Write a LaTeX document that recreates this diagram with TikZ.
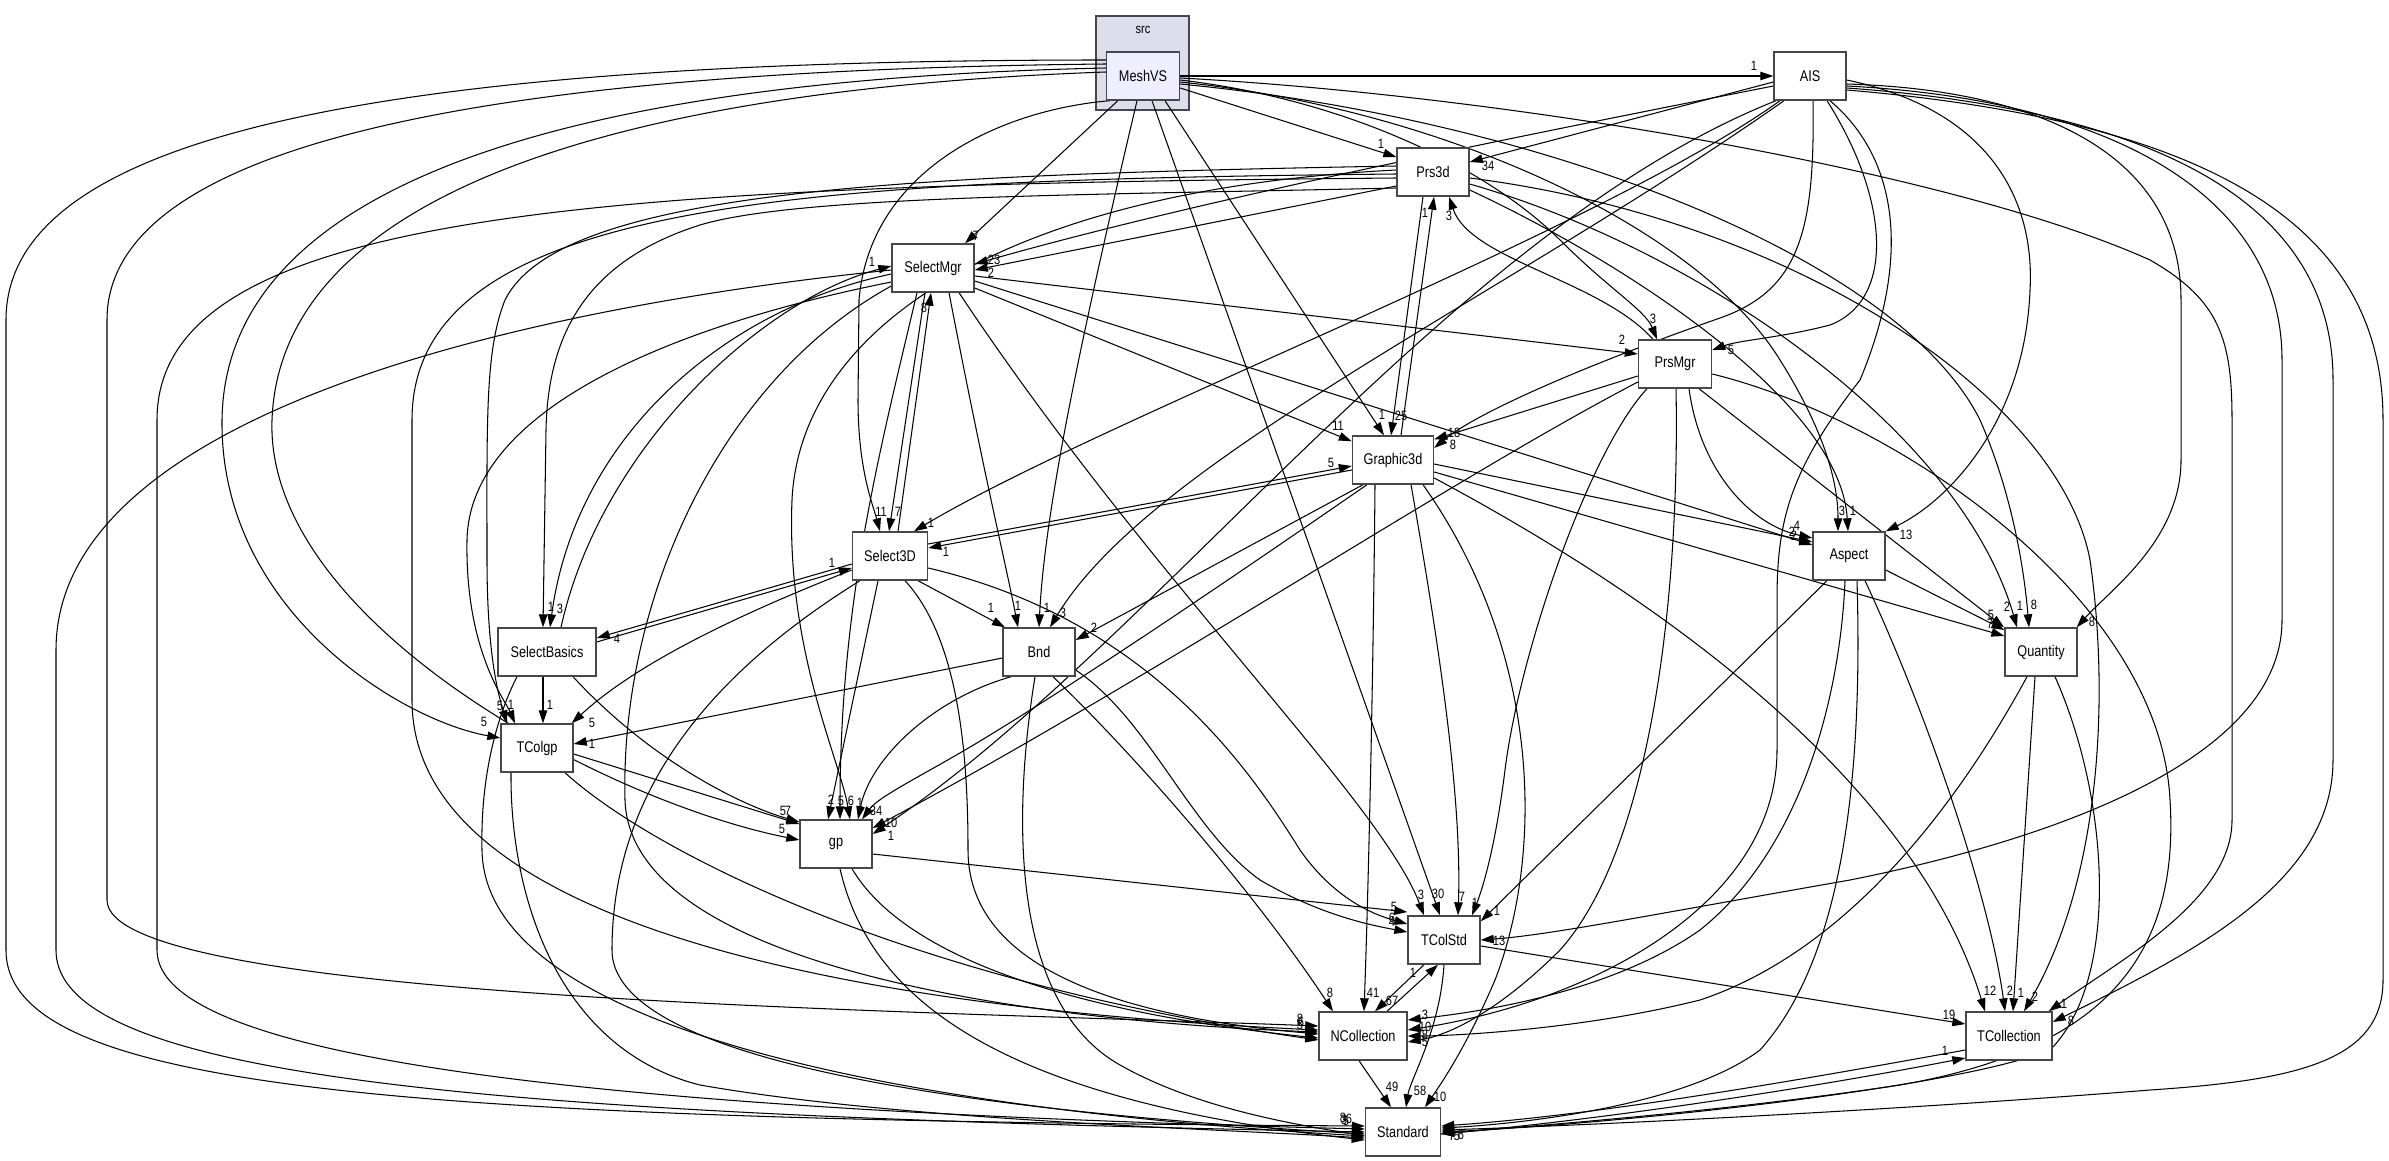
\documentclass[tikz,border=0pt]{standalone}
\usepackage{fontspec}
\newfontfamily\pkgnf{Liberation Sans}[FakeStretch=0.82]
\usetikzlibrary{arrows.meta}
\pgfdeclarelayer{back}
\pgfdeclarelayer{edges}
\pgfsetlayers{back,edges,main}
\newcommand\pkgfont{\pkgnf\fontsize{15.5}{18}\selectfont}
\newcommand\depfont{\pkgnf\fontsize{13.5}{15}\selectfont}
\definecolor{clusterfill}{RGB}{221,221,238}
\definecolor{focusfill}{RGB}{238,238,255}
\begin{document}
\begin{tikzpicture}[x=1pt,y=-1pt,
  pkg/.style={draw=black!72, line width=1.4pt, fill=white, minimum height=48pt, inner sep=0pt, font=\pkgfont},
  dep/.style={line width=1.05pt, -{Triangle[length=13pt,width=8.5pt]}},
  lbl/.style={font=\depfont, inner sep=0pt}]
\useasboundingbox (0,0) rectangle (2389,1161);
\begin{pgfonlayer}{back}
\fill[white] (0,0) rectangle (2389,1161);
\node[draw=black!72, line width=1.4pt, fill=clusterfill, minimum width=93pt, minimum height=94pt, inner sep=0pt] (cl) at (1142.5,63) {};
\node[font=\depfont, inner sep=0pt] (srclbl) at (1143,30) {src};
\end{pgfonlayer}
% nodes
\node[pkg, fill=focusfill, minimum width=73pt] (M) at (1143,76) {MeshVS};
\node[pkg, minimum width=72pt] (AIS) at (1810,76) {AIS};
\node[pkg, minimum width=72pt] (Prs3d) at (1433,172) {Prs3d};
\node[pkg, minimum width=82pt] (SMgr) at (933,268) {SelectMgr};
\node[pkg, minimum width=73pt] (PMgr) at (1675,364) {PrsMgr};
\node[pkg, minimum width=81pt] (G3d) at (1393,460) {Graphic3d};
\node[pkg, minimum width=75pt] (S3D) at (890,556) {Select3D};
\node[pkg, minimum width=72pt] (Asp) at (1849,556) {Aspect};
\node[pkg, minimum width=98pt] (SBas) at (547,652) {SelectBasics};
\node[pkg, minimum width=72pt] (Bnd) at (1039,652) {Bnd};
\node[pkg, minimum width=72pt] (Qty) at (2041,652) {Quantity};
\node[pkg, minimum width=72pt] (TColgp) at (537,748) {TColgp};
\node[pkg, minimum width=72pt] (gp) at (836,844) {gp};
\node[pkg, minimum width=72pt] (TColStd) at (1444,940) {TColStd};
\node[pkg, minimum width=88pt] (NColl) at (1363,1036) {NCollection};
\node[pkg, minimum width=86pt] (TColl) at (2009,1036) {TCollection};
\node[pkg, minimum width=75pt] (Std) at (1403,1132) {Standard};

\begin{pgfonlayer}{edges}
% ---------- MeshVS
\draw[dep] (M) -- (AIS) node[lbl,at={(1754,66)}]{1};
\draw[dep] ([yshift=-12pt]M.east) -- ([yshift=15pt]Prs3d.west) node[lbl,at={(1381,144)}]{1};
\draw[dep] ([xshift=12pt]M.south west) -- ([xshift=32pt]SMgr.north) node[lbl,at={(976,236)}]{7};
\draw[dep] ([xshift=4pt]M.south west) .. controls (1000,110) and (870,170) .. (859,300) -- (858,400) .. controls (858,470) and (873,505) .. ([xshift=-10pt]S3D.north) node[lbl,at={(881,512)}]{11};
\draw[dep] ([xshift=-6pt]M.south) .. controls (1090,300) and (1045,500) .. (Bnd.north) node[lbl,at={(1047,608)}]{1};
\draw[dep] ([xshift=9pt]M.south) -- ([xshift=-4pt]TColStd.north) node[lbl,at={(1438,894)}]{30};
\draw[dep] ([xshift=22pt]M.south) -- ([xshift=-9pt]G3d.north) node[lbl,at={(1382,415)}]{1};
\draw[dep] ([yshift=-4pt]M.east) .. controls (1350,100) and (1490,170) .. (1560,240) .. controls (1610,290) and (1645,310) .. ([xshift=-18pt]PMgr.north) node[lbl,at={(1653,319)}]{3};
\draw[dep] ([yshift=-6pt]M.east) .. controls (1450,110) and (1700,230) .. (1780,360) .. controls (1830,440) and (1838,490) .. ([xshift=-11pt]Asp.north) node[lbl,at={(1842,511)}]{3};
\draw[dep] ([yshift=-8pt]M.east) .. controls (1550,120) and (1900,260) .. (1980,420) .. controls (2015,500) and (2025,580) .. ([xshift=-12pt]Qty.north) node[lbl,at={(2034,605)}]{8};
\draw[dep] ([yshift=-2pt]M.east) .. controls (1500,95) and (1950,170) .. (2150,260) .. controls (2220,300) and (2232,340) .. (2232,420) -- (2232,820) .. controls (2232,900) and (2120,960) .. ([xshift=-4pt]TColl.north east) node[lbl,at={(2064,1004)}]{1};
\draw[dep] ([yshift=4pt]M.west) .. controls (600,90) and (280,200) .. (272,420) .. controls (265,620) and (600,800) .. ([yshift=4pt]gp.west) node[lbl,at={(782,829)}]{5};
\draw[dep] ([yshift=8pt]M.west) .. controls (550,80) and (225,190) .. (222,420) .. controls (220,610) and (400,720) .. ([yshift=10pt]TColgp.west) node[lbl,at={(484,722)}]{5};
\draw[dep] ([yshift=12pt]M.west) .. controls (500,70) and (107,140) .. (107,320) -- (107,900) .. controls (107,1000) and (900,1010) .. ([yshift=10pt]NColl.west) node[lbl,at={(1300,1019)}]{8};
\draw[dep] ([yshift=16pt]M.west) .. controls (400,60) and (6,130) .. (6,320) -- (6,950) .. controls (6,1090) and (400,1120) .. ([yshift=6pt]Std.west) node[lbl,at={(1343,1118)}]{8};
% ---------- AIS
\draw[dep] ([yshift=-6pt]AIS.west) -- ([yshift=10pt]Prs3d.east) node[lbl,at={(1488,166)}]{34};
\draw[dep] ([yshift=-10pt]AIS.west) .. controls (1500,140) and (1200,200) .. ([yshift=4pt]SMgr.east) node[lbl,at={(994,260)}]{23};
\draw[dep] ([xshift=17pt]AIS.south) .. controls (1890,200) and (1895,300) .. (1830,325) .. controls (1780,338) and (1740,340) .. ([yshift=14pt]PMgr.east) node[lbl,at={(1731,350)}]{5};
\draw[dep] ([xshift=3pt]AIS.south) .. controls (1815,230) and (1800,290) .. (1720,318) .. controls (1600,360) and (1480,410) .. ([yshift=12pt]G3d.east) node[lbl,at={(1453,445)}]{8};
\draw[dep] ([xshift=-30pt]AIS.south) .. controls (1600,230) and (1100,420) .. ([xshift=24pt]S3D.north) node[lbl,at={(931,523)}]{1};
\draw[dep] ([xshift=-34pt]AIS.south) .. controls (1450,230) and (1150,650) .. ([yshift=10pt]gp.east) node[lbl,at={(891,836)}]{1};
\draw[dep] ([xshift=-26pt]AIS.south) .. controls (1500,300) and (1150,460) .. ([xshift=11pt]Bnd.north) node[lbl,at={(1063,613)}]{3};
\draw[dep] ([yshift=-4pt]AIS.east) .. controls (1990,110) and (2035,200) .. (2030,290) .. controls (2025,420) and (1950,500) .. (Asp.north east) node[lbl,at={(1906,535)}]{13};
\draw[dep] ([yshift=-8pt]AIS.east) .. controls (2050,90) and (2181,160) .. (2181,300) -- (2181,460) .. controls (2181,540) and (2110,590) .. ([xshift=-1pt]Qty.north east) node[lbl,at={(2092,622)}]{8};
\draw[dep] ([yshift=-10pt]AIS.east) .. controls (2120,100) and (2282,200) .. (2282,360) -- (2282,620) .. controls (2282,760) and (2050,840) .. (1850,880) .. controls (1650,915) and (1550,935) .. (TColStd.east) node[lbl,at={(1499,941)}]{13};
\draw[dep] ([yshift=-14pt]AIS.east) .. controls (2200,120) and (2383,220) .. (2383,420) -- (2383,980) .. controls (2383,1060) and (2300,1080) .. (2150,1090) .. controls (1900,1110) and (1600,1125) .. ([yshift=2pt]Std.east) node[lbl,at={(1452,1136)}]{7};
\draw[dep] ([yshift=-12pt]AIS.east) .. controls (2150,110) and (2333,200) .. (2333,380) -- (2333,760) .. controls (2333,880) and (2200,950) .. ([yshift=14pt]TColl.east) node[lbl,at={(2071,1021)}]{8};
\draw[dep] ([xshift=20pt]AIS.south) .. controls (1900,160) and (1910,260) .. (1860,380) .. controls (1790,470) and (1777,520) .. (1777,600) -- (1777,750) .. controls (1777,900) and (1600,1000) .. ([yshift=6pt]NColl.east) node[lbl,at={(1425,1027)}]{10};
% ---------- Prs3d
\draw[dep] ([yshift=-14pt]Prs3d.west) -- ([yshift=-2pt]SMgr.east) node[lbl,at={(991,273)}]{2};
\draw[dep] ([yshift=-16pt]Prs3d.west) .. controls (1100,195) and (800,195) .. (700,225) .. controls (590,260) and (548,330) .. (546,430) -- ([xshift=-4pt]SBas.north) node[lbl,at={(551,607)}]{1};
\draw[dep] ([xshift=-10pt]Prs3d.south) -- ([xshift=-2pt]G3d.north) node[lbl,at={(1401,416)}]{25};
\draw[dep] ([yshift=-18pt]Prs3d.east) .. controls (1620,260) and (1840,400) .. ([xshift=-1pt]Asp.north) node[lbl,at={(1853,511)}]{1};
\draw[dep] ([yshift=-12pt]Prs3d.east) .. controls (1700,250) and (1960,430) .. ([xshift=-24pt]Qty.north) node[lbl,at={(2020,606)}]{1};
\draw[dep] ([yshift=-6pt]Prs3d.east) .. controls (1800,220) and (2060,400) .. (2090,560) .. controls (2110,700) and (2100,880) .. ([xshift=15pt]TColl.north) node[lbl,at={(2035,997)}]{2};
\draw[dep] ([yshift=6pt]Prs3d.west) .. controls (900,175) and (560,190) .. (505,300) .. controls (485,350) and (487,420) .. (487,560) .. controls (487,660) and (500,700) .. ([xshift=-30pt]TColgp.north) node[lbl,at={(500,706)}]{5};
\draw[dep] ([yshift=2pt]Prs3d.west) .. controls (1000,190) and (800,330) .. (792,500) .. controls (786,650) and (840,760) .. ([xshift=14pt]gp.north) node[lbl,at={(851,801)}]{6};
\draw[dep] ([yshift=-2pt]Prs3d.west) .. controls (800,180) and (412,200) .. (412,420) -- (412,700) .. controls (412,960) and (1000,1015) .. ([yshift=6pt]NColl.west) node[lbl,at={(1301,1022)}]{6};
\draw[dep] ([yshift=-6pt]Prs3d.west) .. controls (600,185) and (157,210) .. (157,420) -- (157,950) .. controls (157,1060) and (600,1110) .. ([yshift=3pt]Std.west) node[lbl,at={(1349,1119)}]{6};
% ---------- SelectMgr
\draw[dep] ([yshift=-6pt]SMgr.west) .. controls (720,310) and (575,440) .. ([xshift=3pt]SBas.north) node[lbl,at={(560,609)}]{3};
\draw[dep] ([xshift=-8pt]SMgr.south) -- ([xshift=-1pt]S3D.north) node[lbl,at={(898,512)}]{7};
\draw[dep] ([yshift=-8pt]SMgr.east) -- ([yshift=10pt]PMgr.west) node[lbl,at={(1622,340)}]{2};
\draw[dep] ([yshift=-20pt]SMgr.east) -- ([yshift=-6pt]G3d.north west) node[lbl,at={(1338,426)}]{11};
\draw[dep] ([yshift=-13pt]SMgr.east) -- ([yshift=11pt]Asp.west) node[lbl,at={(1794,536)}]{2};
\draw[dep] ([xshift=16pt]SMgr.south) .. controls (985,480) and (1005,560) .. ([xshift=-21pt]Bnd.north) node[lbl,at={(1018,606)}]{1};
\draw[dep] ([yshift=-14pt]SMgr.west) .. controls (700,320) and (470,400) .. (467,540) .. controls (465,650) and (505,700) .. ([xshift=-22pt]TColgp.north) node[lbl,at={(511,705)}]{1};
\draw[dep] ([xshift=-16pt]SMgr.south) .. controls (880,450) and (840,600) .. ([xshift=4pt]gp.north) node[lbl,at={(841,801)}]{5};
\draw[dep] ([xshift=26pt]SMgr.south) .. controls (1150,580) and (1380,800) .. ([xshift=-20pt]TColStd.north) node[lbl,at={(1421,895)}]{3};
\draw[dep] ([yshift=-18pt]SMgr.west) .. controls (720,380) and (620,600) .. (625,800) .. controls (630,960) and (1000,1020) .. ([yshift=4pt]NColl.west) node[lbl,at={(1300,1025)}]{5};
\draw[dep] ([yshift=-2pt]SMgr.west) .. controls (500,310) and (56,420) .. (56,650) -- (56,950) .. controls (56,1080) and (500,1115) .. (Std.west) node[lbl,at={(1346,1121)}]{5};
% ---------- SelectBasics
\draw[dep] ([xshift=14pt]SBas.north) .. controls (600,450) and (760,300) .. ([yshift=2pt]SMgr.west) node[lbl,at={(872,262)}]{1};
\draw[dep] ([yshift=-8pt]S3D.west) -- ([yshift=14pt]SBas.east) node[lbl,at={(617,639)}]{4};
\draw[dep] ([yshift=10pt]SBas.east) -- ([yshift=-12pt]S3D.west) node[lbl,at={(832,563)}]{1};
\draw[dep] ([xshift=-4pt]SBas.south) -- ([xshift=6pt]TColgp.north) node[lbl,at={(550,705)}]{1};
\draw[dep] ([xshift=26pt]SBas.south) .. controls (650,760) and (740,805) .. ([yshift=22pt]gp.west) node[lbl,at={(783,811)}]{5};
\draw[dep] ([xshift=-30pt]SBas.south) .. controls (505,700) and (480,760) .. (482,850) .. controls (485,1050) and (1000,1115) .. ([yshift=-4pt]Std.west) node[lbl,at={(1344,1120)}]{3};
% ---------- PrsMgr
\draw[dep] ([xshift=-22pt]PMgr.north) .. controls (1600,280) and (1470,260) .. ([xshift=16pt]Prs3d.south) node[lbl,at={(1449,216)}]{3};
\draw[dep] ([yshift=-12pt]PMgr.west) -- ([yshift=-4pt]G3d.north east) node[lbl,at={(1454,433)}]{18};
\draw[dep] ([xshift=14pt]PMgr.south) .. controls (1700,470) and (1750,525) .. ([yshift=18pt]Asp.west) node[lbl,at={(1792,532)}]{2};
\draw[dep] ([xshift=24pt]PMgr.south) -- ([xshift=-37pt]Qty.north) node[lbl,at={(2007,607)}]{2};
\draw[dep] ([yshift=-18pt]PMgr.west) .. controls (1450,480) and (1150,680) .. ([yshift=16pt]gp.east) node[lbl,at={(891,823)}]{10};
\draw[dep] ([xshift=-28pt]PMgr.south) .. controls (1590,450) and (1520,650) .. (1505,770) .. controls (1495,850) and (1482,890) .. ([xshift=28pt]TColStd.north) node[lbl,at={(1475,903)}]{1};
\draw[dep] ([xshift=1pt]PMgr.south) .. controls (1680,600) and (1650,850) .. (1560,950) .. controls (1500,1010) and (1450,1035) .. ([yshift=-6pt]NColl.east) node[lbl,at={(1425,1042)}]{5};
\draw[dep] ([yshift=-10pt]PMgr.east) .. controls (1900,420) and (2160,600) .. (2170,800) .. controls (2180,960) and (2100,1050) .. (1900,1085) .. controls (1700,1115) and (1500,1128) .. ([yshift=-2pt]Std.east) node[lbl,at={(1457,1136)}]{5};
% ---------- Graphic3d
\draw[dep] ([xshift=8pt]G3d.north) -- ([xshift=1pt]Prs3d.south) node[lbl,at={(1425,213)}]{1};
\draw[dep] ([yshift=12pt]S3D.east) -- ([yshift=-6pt]G3d.west) node[lbl,at={(1331,463)}]{5};
\draw[dep] ([yshift=-10pt]G3d.west) -- ([yshift=8pt]S3D.east) node[lbl,at={(946,552)}]{1};
\draw[dep] ([xshift=-30pt]G3d.south) -- ([yshift=12pt]Bnd.east) node[lbl,at={(1094,628)}]{2};
\draw[dep] ([xshift=-26pt]G3d.south) .. controls (1200,600) and (1080,680) .. (990,735) .. controls (930,772) and (880,795) .. ([xshift=26pt]gp.north) node[lbl,at={(876,811)}]{34};
\draw[dep] ([yshift=-4pt]G3d.east) -- ([yshift=14pt]Asp.west) node[lbl,at={(1797,526)}]{4};
\draw[dep] ([yshift=-12pt]G3d.east) -- ([yshift=16pt]Qty.west) node[lbl,at={(1990,624)}]{7};
\draw[dep] ([xshift=18pt]G3d.south) .. controls (1440,650) and (1462,800) .. ([xshift=14pt]TColStd.north) node[lbl,at={(1462,897)}]{7};
\draw[dep] ([xshift=-18pt]G3d.south) .. controls (1373,700) and (1368,900) .. ([xshift=1pt]NColl.north) node[lbl,at={(1373,993)}]{41};
\draw[dep] ([yshift=-18pt]G3d.east) .. controls (1700,620) and (1920,800) .. ([xshift=-24pt]TColl.north) node[lbl,at={(1990,991)}]{12};
\draw[dep] ([xshift=30pt]G3d.south) .. controls (1540,650) and (1545,850) .. (1495,980) .. controls (1465,1050) and (1440,1085) .. ([xshift=22pt]Std.north) node[lbl,at={(1440,1097)}]{10};
% ---------- Select3D
\draw[dep] ([xshift=8pt]S3D.north) -- ([xshift=-2pt]SMgr.south) node[lbl,at={(924,308)}]{8};
\draw[dep] ([xshift=28pt]S3D.south) -- ([xshift=-34pt]Bnd.north) node[lbl,at={(991,608)}]{1};
\draw[dep] ([yshift=-14pt]S3D.west) .. controls (750,610) and (640,660) .. ([xshift=-2pt]TColgp.north east) node[lbl,at={(592,723)}]{5};
\draw[dep] ([xshift=-12pt]S3D.south) -- ([xshift=-8pt]gp.north) node[lbl,at={(831,800)}]{2};
\draw[dep] ([yshift=-12pt]S3D.east) .. controls (1150,620) and (1250,770) .. (1300,850) .. controls (1335,900) and (1375,915) .. ([yshift=16pt]TColStd.west) node[lbl,at={(1392,922)}]{4};
\draw[dep] ([xshift=15pt]S3D.south) .. controls (960,640) and (968,760) .. (968,850) .. controls (968,960) and (1100,1015) .. ([yshift=2pt]NColl.west);
\draw[dep] ([xshift=-30pt]S3D.south) .. controls (700,680) and (612,800) .. (612,950) .. controls (612,1080) and (1100,1118) .. ([yshift=-2pt]Std.west);
% ---------- Aspect
\draw[dep] ([yshift=-14pt]Asp.east) -- ([yshift=22pt]Qty.west) node[lbl,at={(1991,615)}]{5};
\draw[dep] ([xshift=-22pt]Asp.south) -- ([yshift=-6pt]TColStd.north east) node[lbl,at={(1497,911)}]{1};
\draw[dep] ([xshift=-4pt]Asp.south) .. controls (1840,700) and (1800,850) .. (1700,930) .. controls (1600,1000) and (1450,1015) .. ([yshift=16pt]NColl.east) node[lbl,at={(1425,1015)}]{3};
\draw[dep] ([xshift=16pt]Asp.south) .. controls (1930,720) and (1990,900) .. ([xshift=-4pt]TColl.north) node[lbl,at={(2010,991)}]{2};
\draw[dep] ([xshift=8pt]Asp.south) .. controls (1862,750) and (1850,950) .. (1760,1050) .. controls (1680,1110) and (1500,1125) .. ([yshift=4pt]Std.east) node[lbl,at={(1461,1135)}]{6};
% ---------- Bnd
\draw[dep] ([yshift=-6pt]Bnd.west) -- ([yshift=4pt]TColgp.east) node[lbl,at={(592,744)}]{1};
\draw[dep] ([xshift=-28pt]Bnd.south) .. controls (930,700) and (870,760) .. ([xshift=22pt]gp.north) node[lbl,at={(860,803)}]{1};
\draw[dep] ([yshift=-18pt]Bnd.east) .. controls (1150,720) and (1190,830) .. (1260,880) .. controls (1320,915) and (1370,925) .. ([yshift=8pt]TColStd.west) node[lbl,at={(1392,918)}]{6};
\draw[dep] ([xshift=14pt]Bnd.south) .. controls (1140,760) and (1260,900) .. ([xshift=-30pt]NColl.north) node[lbl,at={(1330,993)}]{8};
\draw[dep] ([xshift=-4pt]Bnd.south) .. controls (1015,800) and (1005,1000) .. (1120,1065) .. controls (1200,1110) and (1300,1125) .. ([yshift=-4pt]Std.west);
% ---------- Quantity
\draw[dep] ([xshift=-6pt]Qty.south) -- ([xshift=4pt]TColl.north) node[lbl,at={(2021,993)}]{1};
\draw[dep] ([xshift=-14pt]Qty.south) .. controls (1960,800) and (1850,950) .. (1700,1000) .. controls (1580,1030) and (1450,1036) .. (NColl.east) node[lbl,at={(1425,1035)}]{8};
\draw[dep] ([xshift=14pt]Qty.south) .. controls (2110,800) and (2120,980) .. (2050,1050) .. controls (1950,1090) and (1600,1125) .. (Std.east);
% ---------- TColgp
\draw[dep] ([yshift=-6pt]TColgp.east) -- ([yshift=20pt]gp.west) node[lbl,at={(788,811)}]{7};
\draw[dep] ([xshift=28pt]TColgp.south) .. controls (650,850) and (900,980) .. ([yshift=-4pt]NColl.west);
\draw[dep] ([xshift=-26pt]TColgp.south) .. controls (510,900) and (560,1050) .. (700,1085) .. controls (900,1120) and (1200,1128) .. ([yshift=-6pt]Std.west);
% ---------- gp
\draw[dep] ([yshift=-10pt]gp.east) -- ([yshift=28pt]TColStd.west) node[lbl,at={(1394,907)}]{5};
\draw[dep] ([xshift=16pt]gp.south) .. controls (900,950) and (1050,1010) .. ([yshift=-2pt]NColl.west);
\draw[dep] ([xshift=4pt]gp.south) .. controls (870,1000) and (1000,1100) .. ([yshift=-8pt]Std.west);
% ---------- TColStd / NCollection / TCollection
\draw[dep] ([xshift=-20pt]TColStd.south) -- ([xshift=12pt]NColl.north) node[lbl,at={(1392,1001)}]{67};
\draw[dep] ([xshift=24pt]NColl.north) -- ([xshift=-6pt]TColStd.south) node[lbl,at={(1413,973)}]{1};
\draw[dep] (TColStd.south) .. controls (1440,1030) and (1410,1080) .. ([xshift=3pt]Std.north) node[lbl,at={(1420,1091)}]{58};
\draw[dep] ([yshift=-6pt]TColStd.east) -- ([yshift=12pt]TColl.west) node[lbl,at={(1949,1015)}]{19};
\draw[dep] ([xshift=-4pt]NColl.south) -- ([xshift=-12pt]Std.north) node[lbl,at={(1392,1087)}]{49};
\draw[dep] ([yshift=-14pt]TColl.west) .. controls (1800,1080) and (1600,1115) .. ([yshift=6pt]Std.east);
\draw[dep] ([yshift=-2pt]Std.east) .. controls (1600,1120) and (1800,1090) .. ([yshift=-22pt]TColl.west) node[lbl,at={(1945,1051)}]{1};
\end{pgfonlayer}
\end{tikzpicture}
\end{document}
